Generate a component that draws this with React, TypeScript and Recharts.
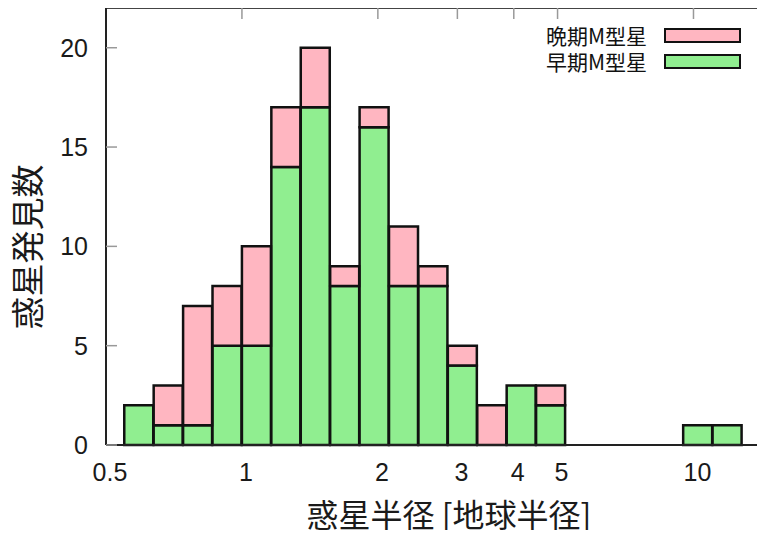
import { BarChart, Bar, XAxis, YAxis, Legend } from 'recharts';

// bin edges (planet radius, Earth radii), equal widths in log space
const binEdges = [
  0.5488, 0.6376, 0.7408, 0.8607, 1.0, 1.1618, 1.3499, 1.5683, 1.8221, 2.117, 2.4596,
  2.8577, 3.3201, 3.8574, 4.4817, 5.207, 6.0496, 7.0287, 8.1662, 9.4877, 11.0232, 12.8071,
];
// counts per bin
const earlyM = [2, 1, 1, 5, 5, 14, 17, 8, 16, 8, 8, 4, 0, 3, 2, 0, 0, 0, 0, 1, 1];
const lateM = [0, 2, 6, 3, 5, 3, 3, 1, 1, 3, 1, 1, 2, 0, 1, 0, 0, 0, 0, 0, 0];

const xTicks = [0.5, 1, 2, 3, 4, 5, 10];
const yTicks = [0, 5, 10, 15, 20];
const X_MIN = 0.5;
const X_MAX = 15;

const W = 780;
const H = 538;
const margin = { top: 7, right: 6, bottom: 0, left: 46 };
const Y_AXIS_W = 60;
const X_AXIS_H = 93;

const plotW = W - margin.left - Y_AXIS_W - margin.right - 1;
const span = Math.log10(X_MAX / X_MIN);
const padL = (Math.log10(binEdges[0] / X_MIN) / span) * plotW;
const padR = (Math.log10(X_MAX / binEdges[binEdges.length - 1]) / span) * plotW;

const data = earlyM.map((v, i) => ({
  bin: binEdges[i].toFixed(2),
  r: Math.sqrt(binEdges[i] * binEdges[i + 1]),
  early: v,
  late: lateM[i],
}));

const FONT = '"Liberation Sans", Arial, "Noto Sans CJK JP", sans-serif';
const CJK = '"Noto Sans CJK JP", "Liberation Sans", sans-serif';
const tickStyle = { fontSize: 25, fill: '#1a1a1a', fontFamily: FONT };

function LegendBox({ payload }: any) {
  const items = [...(payload || [])].reverse();
  return (
    <div style={{ width: 220 }}>
      {items.map((it: any) => (
        <div
          key={it.value}
          style={{ display: 'flex', alignItems: 'center', justifyContent: 'flex-end', height: 26.5 }}
        >
          <span style={{ fontSize: 21, fontFamily: CJK, color: '#111', marginRight: 17, lineHeight: '21px' }}>
            {it.value}
          </span>
          <span style={{ width: 73, height: 11, border: '2px solid #111', background: it.color }} />
        </div>
      ))}
    </div>
  );
}

export default function App() {
  return (
    <div style={{ margin: -8, width: 765, height: 538, overflow: 'hidden', position: 'relative', background: '#fff' }}>
      <BarChart width={W} height={H} data={data} margin={margin} barCategoryGap={0} barGap={0}>
        <XAxis xAxisId="cat" dataKey="bin" type="category" hide height={0} padding={{ left: padL, right: padR }} />
        <XAxis
          xAxisId="log"
          dataKey="r"
          type="number"
          scale="log"
          domain={[X_MIN, X_MAX]}
          allowDataOverflow
          ticks={xTicks}
          height={X_AXIS_H}
          tickSize={0}
          tickMargin={18}
          dx={4}
          tick={tickStyle}
          stroke="#222"
          strokeWidth={2}
          tickLine={false}
          label={{
            content: () => (
              <text x={449} y={527} textAnchor="middle" fontSize={32} fontFamily={CJK} fill="#1a1a1a">
                惑星半径 [地球半径]
              </text>
            ),
          }}
        />
        <XAxis
          xAxisId="top"
          dataKey="r"
          orientation="top"
          type="number"
          scale="log"
          domain={[X_MIN, X_MAX]}
          allowDataOverflow
          ticks={xTicks}
          height={1}
          tickSize={-11}
          tickFormatter={() => ''}
          stroke="#444"
          strokeWidth={2}
          tickLine={{ stroke: '#999', strokeWidth: 1.5 }}
        />
        <YAxis
          domain={[0, 22]}
          ticks={yTicks}
          width={Y_AXIS_W}
          tickSize={-11}
          tickMargin={29}
          tick={tickStyle}
          stroke="#222"
          strokeWidth={2}
          tickLine={{ stroke: '#999', strokeWidth: 1.5 }}
          label={{
            content: () => (
              <text
                x={40}
                y={247}
                transform="rotate(-90 40 247)"
                textAnchor="middle"
                fontSize={33}
                fontFamily={CJK}
                fill="#1a1a1a"
              >
                惑星発見数
              </text>
            ),
          }}
        />
        <YAxis
          yAxisId="right"
          orientation="right"
          domain={[0, 22]}
          ticks={yTicks}
          width={1}
          tickSize={-11}
          tickFormatter={() => ''}
          stroke="#444"
          strokeWidth={2}
          tickLine={{ stroke: '#999', strokeWidth: 1.5 }}
        />
        <Legend
          layout="vertical"
          align="center"
          verticalAlign="middle"
          wrapperStyle={{ left: 521, top: 22, width: 220 }}
          content={<LegendBox />}
        />
        <Bar xAxisId="cat" dataKey="early" name="早期M型星" stackId="a" fill="#90ee90" stroke="#111" strokeWidth={2.5} isAnimationActive={false} />
        <Bar xAxisId="cat" dataKey="late" name="晩期M型星" stackId="a" fill="#ffb6c1" stroke="#111" strokeWidth={2.5} isAnimationActive={false} />
      </BarChart>
    </div>
  );
}
